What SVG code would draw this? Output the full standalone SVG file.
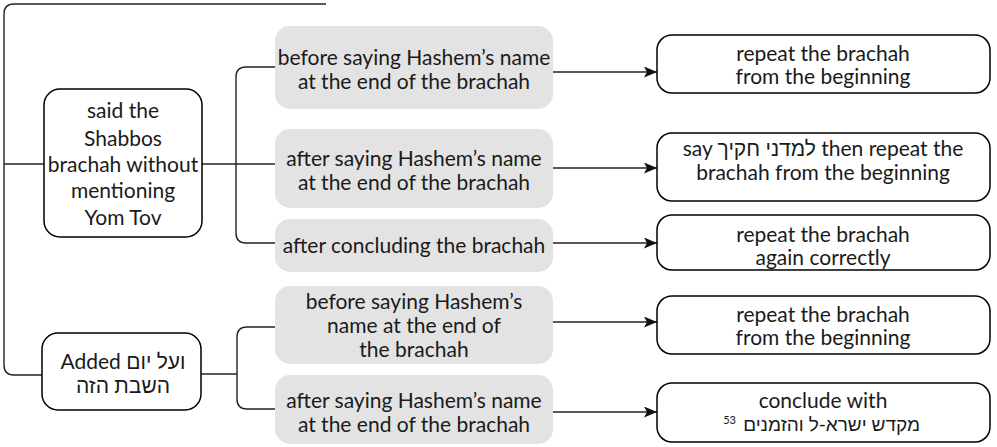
<svg xmlns="http://www.w3.org/2000/svg" width="997" height="447" viewBox="0 0 997 447">
<defs>
<style>
.t{font-family:Lato,"Liberation Sans","DejaVu Sans",sans-serif;font-size:21px;fill:#1a1a1a;text-anchor:middle}
.w{fill:#fff;stroke:#000;stroke-width:1.5}
.g{fill:#e3e3e3;stroke:none}
.c{fill:none;stroke:#222;stroke-width:1.4}
</style>
<marker id="ah" markerUnits="userSpaceOnUse" markerWidth="14" markerHeight="11" refX="13" refY="5.5" orient="auto">
<path d="M0,0 L13,5.5 L0,11 L3,5.5 Z" fill="#111"/>
</marker>
</defs>
<rect width="997" height="447" fill="#fff"/>
<g id="connectors">
<path class="c" d="M326,4 H14 Q4,4 4,14 V365 Q4,375 14,375 H42"/>
<path class="c" d="M4,164 H44"/>
<path class="c" d="M202,164 H275"/>
<path class="c" d="M275,67 H246 Q236,67 236,77 V233 Q236,243 246,243 H275"/>
<path class="c" d="M201,374 H237"/>
<path class="c" d="M275,327 H247 Q237,327 237,337 V399 Q237,409 247,409 H275"/>
<path class="c" marker-end="url(#ah)" d="M553,72 H657"/>
<path class="c" marker-end="url(#ah)" d="M553,168 H657"/>
<path class="c" marker-end="url(#ah)" d="M553,243 H657"/>
<path class="c" marker-end="url(#ah)" d="M553,322 H657"/>
<path class="c" marker-end="url(#ah)" d="M553,412 H657"/>
</g>
<g id="n1">
<rect class="w" x="44" y="89" width="158" height="148" rx="16"/>
<text class="t" x="123" y="118">said the</text>
<text class="t" x="123" y="146">Shabbos</text>
<text class="t" x="123" y="172">brachah without</text>
<text class="t" x="123" y="198">mentioning</text>
<text class="t" x="123" y="225">Yom Tov</text>
</g>
<g id="n2">
<rect class="w" x="42" y="333" width="159" height="77" rx="16"/>
<text class="t" x="123" y="369">Added ועל יום</text>
<text class="t" x="123" y="393">השבת הזה</text>
</g>
<g id="a">
<rect class="g" x="275" y="26" width="278" height="83" rx="15"/>
<text class="t" x="414" y="65">before saying Hashem’s name</text>
<text class="t" x="414" y="89">at the end of the brachah</text>
</g>
<g id="b">
<rect class="g" x="275" y="129" width="278" height="79" rx="15"/>
<text class="t" x="414" y="166">after saying Hashem’s name</text>
<text class="t" x="414" y="190">at the end of the brachah</text>
</g>
<g id="c">
<rect class="g" x="275" y="219" width="278" height="53" rx="15"/>
<text class="t" x="414" y="253">after concluding the brachah</text>
</g>
<g id="d">
<rect class="g" x="275" y="286" width="278" height="78" rx="15"/>
<text class="t" x="414" y="309">before saying Hashem’s</text>
<text class="t" x="414" y="333">name at the end of</text>
<text class="t" x="414" y="357">the brachah</text>
</g>
<g id="e">
<rect class="g" x="275" y="375" width="278" height="69" rx="15"/>
<text class="t" x="414" y="408">after saying Hashem’s name</text>
<text class="t" x="414" y="432">at the end of the brachah</text>
</g>
<g id="r1">
<rect class="w" x="657" y="35" width="333" height="58" rx="15"/>
<text class="t" x="823" y="61">repeat the brachah</text>
<text class="t" x="823" y="84">from the beginning</text>
</g>
<g id="r2">
<rect class="w" x="657" y="133" width="333" height="68" rx="15"/>
<text class="t" x="823" y="156">say למדני חקיך then repeat the</text>
<text class="t" x="823" y="180">brachah from the beginning</text>
</g>
<g id="r3">
<rect class="w" x="657" y="215" width="333" height="55" rx="15"/>
<text class="t" x="823" y="242">repeat the brachah</text>
<text class="t" x="823" y="265">again correctly</text>
</g>
<g id="r4">
<rect class="w" x="657" y="296" width="333" height="58" rx="15"/>
<text class="t" x="823" y="322">repeat the brachah</text>
<text class="t" x="823" y="345">from the beginning</text>
</g>
<g id="r5">
<rect class="w" x="657" y="383" width="333" height="59" rx="15"/>
<text class="t" x="823" y="408">conclude with</text>
<text class="t" x="920" y="431" style="text-anchor:end;font-size:19px">מקדש ישרא-ל והזמנים</text>
<text class="t" x="736" y="424" style="text-anchor:end;font-size:11px">53</text>
</g>
</svg>
